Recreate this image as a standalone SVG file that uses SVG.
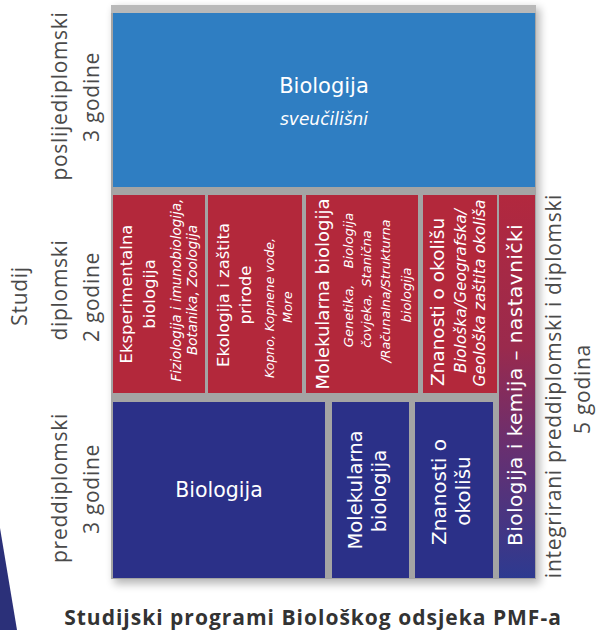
<svg xmlns="http://www.w3.org/2000/svg" width="599" height="630" viewBox="0 0 599 630">
<defs>
<linearGradient id="gradD" x1="0" y1="0" x2="0" y2="1">
<stop offset="0" stop-color="#b2283e"/>
<stop offset="0.4" stop-color="#9a2a4d"/>
<stop offset="0.65" stop-color="#6a2f6f"/>
<stop offset="1" stop-color="#2d3a90"/>
</linearGradient>
<filter id="sh" x="-10%" y="-10%" width="120%" height="120%"><feGaussianBlur stdDeviation="4"/></filter>
</defs>
<style>
.lbl{font-family:"Open Sans","Noto Sans",sans-serif;font-size:21px;fill:#4a4a4a;text-anchor:middle;letter-spacing:0.7px}
.t{font-family:"DejaVu Sans",Verdana,sans-serif;fill:#ffffff;text-anchor:middle}
.it{font-style:italic}
.title{font-family:"Open Sans","Noto Sans",sans-serif;font-weight:bold;font-size:21px;fill:#333333;text-anchor:middle;letter-spacing:1px}
.red{fill:#b3283b}
.navy{fill:#2b3088}
.blue{fill:#2f7ec2}
</style>
<rect width="599" height="630" fill="#ffffff"/>
<polygon points="0,528 17,630 0,630" fill="#2b3079"/>
<rect x="114" y="8" width="426" height="576" fill="#000000" opacity="0.28" filter="url(#sh)"/>
<rect x="111" y="5" width="425" height="574" fill="#a4a4a4"/>
<rect x="111" y="5" width="425" height="8" fill="#b9b9b9"/>

<g id="connectors"/>

<g id="top-biologija">
<rect class="blue" x="113" y="13" width="422" height="174"/>
<text class="t" x="324" y="93" font-size="21">Biologija</text>
<text class="t it" x="324" y="125" font-size="17">sveučilišni</text>
</g>

<g id="eksperimentalna">
<rect class="red" x="113" y="195" width="92" height="198"/>
<text class="t" font-size="16.5" transform="translate(132,294) rotate(-90)">Eksperimentalna</text>
<text class="t" font-size="16.5" transform="translate(155,294) rotate(-90)">biologija</text>
<text class="t it" font-size="13.5" transform="translate(181,290) rotate(-90)">Fiziologija i imunobiologija,</text>
<text class="t it" font-size="13.5" transform="translate(197,290) rotate(-90)">Botanika, Zoologija</text>
</g>

<g id="ekologija">
<rect class="red" x="208" y="195" width="94" height="198"/>
<text class="t" font-size="16.5" transform="translate(229,295) rotate(-90)">Ekologija i zaštita</text>
<text class="t" font-size="16.5" transform="translate(251,295) rotate(-90)">prirode</text>
<text class="t it" font-size="12.5" transform="translate(274,308) rotate(-90)">Kopno, Kopnene vode,</text>
<text class="t it" font-size="12.5" transform="translate(292,307) rotate(-90)">More</text>
</g>

<g id="molekularna-dipl">
<rect class="red" x="306" y="195" width="112" height="198"/>
<text class="t" font-size="18" transform="translate(329,294) rotate(-90)">Molekularna biologija</text>
<text class="t it" font-size="13" word-spacing="12" transform="translate(353,280) rotate(-90)">Genetika, Biologija</text>
<text class="t it" font-size="13" word-spacing="3" transform="translate(371,289) rotate(-90)">čovjeka, Stanična</text>
<text class="t it" font-size="12.7" transform="translate(390,291) rotate(-90)">/Računalna/Strukturna</text>
<text class="t it" font-size="13" transform="translate(411,295) rotate(-90)">biologija</text>
</g>

<g id="znanosti-dipl">
<rect class="red" x="423" y="195" width="74" height="198"/>
<text class="t" font-size="18.5" transform="translate(444,302) rotate(-90)">Znanosti o okolišu</text>
<text class="t it" font-size="15.5" transform="translate(466,291) rotate(-90)">Biološka/Geografska/</text>
<text class="t it" font-size="15.5" transform="translate(485,293) rotate(-90)">Geološka zaštita okoliša</text>
</g>

<g id="nastavnicki">
<rect x="499" y="195" width="36" height="383" fill="url(#gradD)"/>
<text class="t" font-size="20" letter-spacing="0.5" transform="translate(522,385) rotate(-90)">Biologija i kemija – nastavnički</text>
</g>

<g id="biologija-predd">
<rect class="navy" x="113" y="402" width="212" height="176"/>
<text class="t" x="219" y="497" font-size="20.5">Biologija</text>
</g>

<g id="molekularna-predd">
<rect class="navy" x="332" y="402" width="77" height="176"/>
<text class="t" font-size="19.6" transform="translate(362,490) rotate(-90)">Molekularna</text>
<text class="t" font-size="19.6" transform="translate(386,491) rotate(-90)">biologija</text>
</g>

<g id="znanosti-predd">
<rect class="navy" x="415" y="402" width="78" height="176"/>
<text class="t" font-size="20" transform="translate(446,492) rotate(-90)">Znanosti o</text>
<text class="t" font-size="20" transform="translate(470,491) rotate(-90)">okolišu</text>
</g>

<g id="labels">
<text class="lbl" transform="translate(67,96) rotate(-90)">poslijediplomski</text>
<text class="lbl" transform="translate(99,97) rotate(-90)">3 godine</text>
<text class="lbl" transform="translate(27,296) rotate(-90)">Studij</text>
<text class="lbl" transform="translate(67,290) rotate(-90)">diplomski</text>
<text class="lbl" transform="translate(99,297) rotate(-90)">2 godine</text>
<text class="lbl" transform="translate(67,488) rotate(-90)">preddiplomski</text>
<text class="lbl" transform="translate(99,489) rotate(-90)">3 godine</text>
<text class="lbl" transform="translate(561,386) rotate(-90)">integrirani preddiplomski i diplomski</text>
<text class="lbl" transform="translate(590,389) rotate(-90)">5 godina</text>
</g>

<text class="title" x="313" y="625">Studijski programi Biološkog odsjeka PMF-a</text>
</svg>
